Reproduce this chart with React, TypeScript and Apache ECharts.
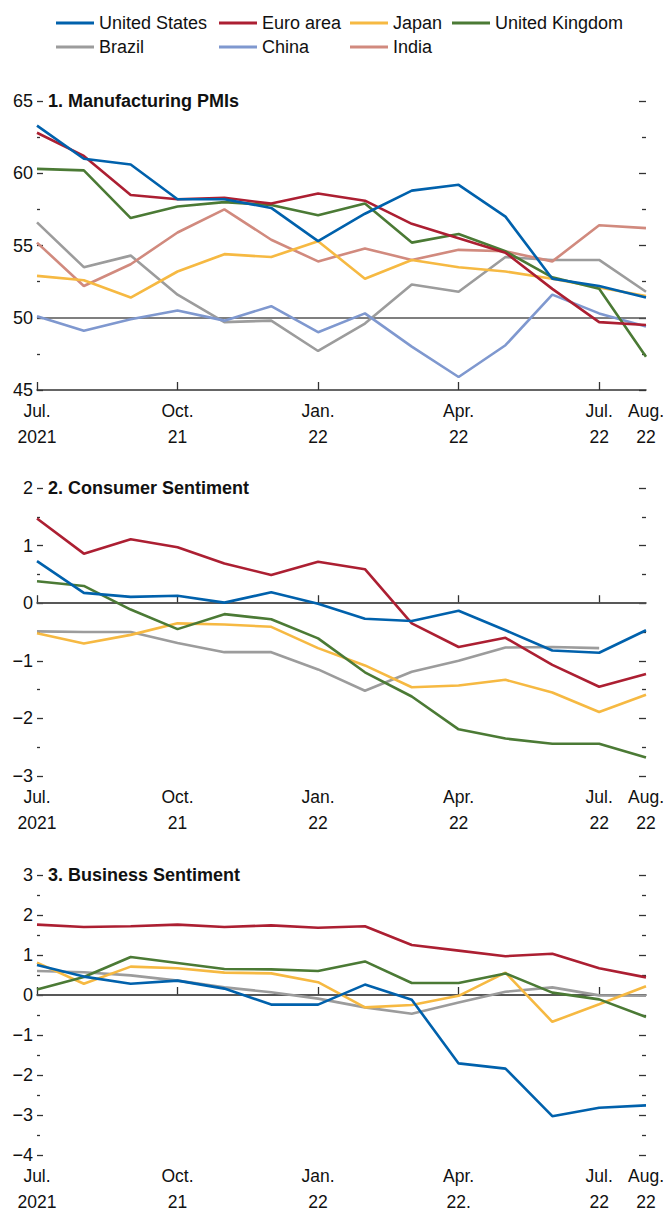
import React, { useEffect, useRef } from "react";
import * as echarts from "echarts";

const FONT = "'Liberation Sans', Arial, sans-serif";

const labelsA = ["Jul.\n2021", "Aug.", "Sep.", "Oct.\n21", "Nov.", "Dec.", "Jan.\n22", "Feb.", "Mar.", "Apr.\n22", "May", "Jun.", "Jul.\n22", "Aug.\n22"];
const labelsC = ["Jul.\n2021", "Aug.", "Sep.", "Oct.\n21", "Nov.", "Dec.", "Jan.\n22", "Feb.", "Mar.", "Apr.\n22.", "May", "Jun.", "Jul.\n22", "Aug.\n22"];
const labeledIdx = [0, 3, 6, 9, 12, 13];
const tickIdx = [0, 3, 6, 9, 12];

const countries = ["United States", "Euro area", "Japan", "United Kingdom", "Brazil", "China", "India"];
const colors: Record<string, string> = {
  "United States": "#0061AC",
  "Euro area": "#AC1F32",
  "Japan": "#F6B942",
  "United Kingdom": "#4B7A35",
  "Brazil": "#9C9C9C",
  "China": "#7F98CF",
  "India": "#D18A7E",
};

// 1. Manufacturing PMIs
const pmiUS = [63.3, 61.0, 60.6, 58.2, 58.2, 57.6, 55.3, 57.2, 58.8, 59.2, 57.0, 52.7, 52.2, 51.4];
const pmiEuro = [62.8, 61.2, 58.5, 58.2, 58.3, 57.9, 58.6, 58.1, 56.5, 55.5, 54.5, 52.0, 49.7, 49.5];
const pmiJapan = [52.9, 52.6, 51.4, 53.2, 54.4, 54.2, 55.3, 52.7, 54.0, 53.5, 53.2, 52.7, 52.1, 51.5];
const pmiUK = [60.3, 60.2, 56.9, 57.7, 58.0, 57.8, 57.1, 57.9, 55.2, 55.8, 54.6, 52.8, 52.0, 47.3];
const pmiBrazil = [56.6, 53.5, 54.3, 51.6, 49.7, 49.8, 47.7, 49.6, 52.3, 51.8, 54.2, 54.0, 54.0, 51.8];
const pmiChina = [50.1, 49.1, 49.9, 50.5, 49.8, 50.8, 49.0, 50.3, 48.0, 45.9, 48.1, 51.6, 50.3, 49.4];
const pmiIndia = [55.2, 52.2, 53.7, 55.9, 57.5, 55.4, 53.9, 54.8, 54.0, 54.7, 54.6, 53.9, 56.4, 56.2];

// 2. Consumer Sentiment
const conUS = [0.73, 0.18, 0.11, 0.13, 0.01, 0.19, -0.01, -0.27, -0.31, -0.13, -0.47, -0.82, -0.86, -0.47];
const conEuro = [1.47, 0.86, 1.11, 0.97, 0.69, 0.49, 0.72, 0.59, -0.35, -0.76, -0.6, -1.07, -1.45, -1.23];
const conJapan = [-0.52, -0.7, -0.55, -0.35, -0.37, -0.41, -0.78, -1.08, -1.46, -1.43, -1.33, -1.55, -1.89, -1.59];
const conUK = [0.38, 0.3, -0.11, -0.45, -0.19, -0.28, -0.61, -1.2, -1.62, -2.19, -2.35, -2.44, -2.44, -2.68];
const conBrazil = [-0.49, -0.5, -0.5, -0.69, -0.85, -0.85, -1.15, -1.52, -1.19, -1.0, -0.77, -0.76, -0.78, null];

// 3. Business Sentiment
const busUS = [0.75, 0.46, 0.28, 0.36, 0.16, -0.24, -0.24, 0.26, -0.12, -1.71, -1.84, -3.03, -2.82, -2.76];
const busEuro = [1.76, 1.7, 1.72, 1.76, 1.7, 1.74, 1.68, 1.72, 1.25, 1.11, 0.97, 1.03, 0.67, 0.44];
const busJapan = [0.81, 0.28, 0.71, 0.67, 0.56, 0.54, 0.32, -0.31, -0.25, -0.02, 0.56, -0.67, -0.23, 0.22];
const busUK = [0.14, 0.45, 0.95, 0.8, 0.65, 0.64, 0.6, 0.84, 0.3, 0.3, 0.54, 0.06, -0.11, -0.55];
const busBrazil = [0.6, 0.57, 0.49, 0.36, 0.19, 0.07, -0.09, -0.31, -0.47, -0.19, 0.08, 0.19, -0.01, -0.02];

const panelTitles = ["1. Manufacturing PMIs", "2. Consumer Sentiment", "3. Business Sentiment"];
const panelMin = [45, -3, -4];
const panelMax = [65, 2, 3];
const panelInterval = [5, 1, 1];
const panelRef = [50, 0, 0];

const panelData: Array<Array<[string, (number | null)[]]>> = [
  [
    ["Brazil", pmiBrazil],
    ["China", pmiChina],
    ["India", pmiIndia],
    ["Japan", pmiJapan],
    ["United Kingdom", pmiUK],
    ["Euro area", pmiEuro],
    ["United States", pmiUS],
  ],
  [
    ["Brazil", conBrazil],
    ["Japan", conJapan],
    ["United Kingdom", conUK],
    ["Euro area", conEuro],
    ["United States", conUS],
  ],
  [
    ["Brazil", busBrazil],
    ["Japan", busJapan],
    ["United Kingdom", busUK],
    ["Euro area", busEuro],
    ["United States", busUS],
  ],
];

const grids = [
  { top: 101, height: 289 },
  { top: 488, height: 288 },
  { top: 875, height: 287 },
];
const titleTops = [92, 479, 866];

export default function App() {
  const ref = useRef<HTMLDivElement>(null);
  useEffect(() => {
    document.body.style.margin = "0";
    if (!ref.current) return;
    const chart = echarts.init(ref.current, null, { renderer: "svg" });

    const legendCommon = {
      orient: "vertical",
      top: 13,
      icon: "rect",
      itemWidth: 38,
      itemHeight: 3,
      itemGap: 4,
      padding: 0,
      selectedMode: false,
      textStyle: { fontSize: 18, color: "#111", lineHeight: 20, fontFamily: FONT },
    };

    const series: any[] = [];
    panelData.forEach((list, p) => {
      list.forEach(([name, values], k) => {
        const s: any = {
          type: "line",
          name,
          xAxisIndex: p,
          yAxisIndex: p * 2,
          data: values,
          symbol: "none",
          connectNulls: false,
          lineStyle: { width: 2.6, color: colors[name] },
          itemStyle: { color: colors[name] },
          z: 3,
        };
        if (k === 0) {
          s.markLine = {
            silent: true,
            symbol: "none",
            z: 1,
            label: { show: false },
            lineStyle: { color: "#555", width: 1.5, type: "solid" },
            data: [{ yAxis: panelRef[p] }],
          };
        }
        series.push(s);
      });
    });

    const fmt = (v: number) => String(v).replace("-", "\u2212");

    const yAxes: any[] = [];
    [0, 1, 2].forEach((p) => {
      yAxes.push({
        gridIndex: p,
        type: "value",
        position: "left",
        min: panelMin[p],
        max: panelMax[p],
        interval: panelInterval[p],
        axisLine: { show: false },
        splitLine: { show: false },
        axisTick: { show: true, inside: true, length: 6, lineStyle: { color: "#333", width: 1.3 } },
        minorTick: { show: true, splitNumber: 2, length: 3, lineStyle: { color: "#333", width: 1.3 } },
        axisLabel: { color: "#111", fontSize: 18, margin: 4, formatter: fmt, fontFamily: FONT },
      });
      yAxes.push({
        gridIndex: p,
        type: "value",
        position: "right",
        min: panelMin[p],
        max: panelMax[p],
        interval: panelInterval[p],
        axisLine: { show: false },
        splitLine: { show: false },
        axisTick: { show: true, inside: true, length: 7, lineStyle: { color: "#333", width: 1.3 } },
        minorTick: { show: true, splitNumber: 2, length: 4, lineStyle: { color: "#333", width: 1.3 } },
        axisLabel: { show: false },
      });
    });

    const option: any = {
      animation: false,
      textStyle: { fontFamily: FONT },
      legend: [
        { ...legendCommon, left: 56, data: ["United States", "Brazil"] },
        { ...legendCommon, left: 219, data: ["Euro area", "China"] },
        { ...legendCommon, left: 350, data: ["Japan", "India"] },
        { ...legendCommon, left: 452, data: ["United Kingdom"] },
      ],
      title: panelTitles.map((t, p) => ({
        text: t,
        left: 48,
        top: titleTops[p],
        padding: 0,
        textStyle: { fontSize: 18, fontWeight: "bold", color: "#111", fontFamily: FONT, lineHeight: 18 },
      })),
      grid: grids.map((g) => ({ left: 37, right: 19, top: g.top, height: g.height, containLabel: false })),
      xAxis: [0, 1, 2].map((p) => ({
        gridIndex: p,
        type: "category",
        data: p === 2 ? labelsC : labelsA,
        boundaryGap: false,
        axisLine: { show: true, lineStyle: { color: "#333", width: 1.5 } },
        axisTick: {
          show: true,
          inside: true,
          length: 8,
          lineStyle: { color: "#333", width: 1.3 },
          interval: (idx: number) => tickIdx.includes(idx),
        },
        axisLabel: {
          interval: (idx: number) => labeledIdx.includes(idx),
          color: "#111",
          fontSize: 17.5,
          lineHeight: 26,
          margin: 8,
          fontFamily: FONT,
        },
        splitLine: { show: false },
      })),
      yAxis: yAxes,
      series,
    };
    chart.setOption(option);
    return () => chart.dispose();
  }, []);
  return <div ref={ref} style={{ position: "absolute", left: 0, top: 0, width: 667, height: 1215 }} />;
}
